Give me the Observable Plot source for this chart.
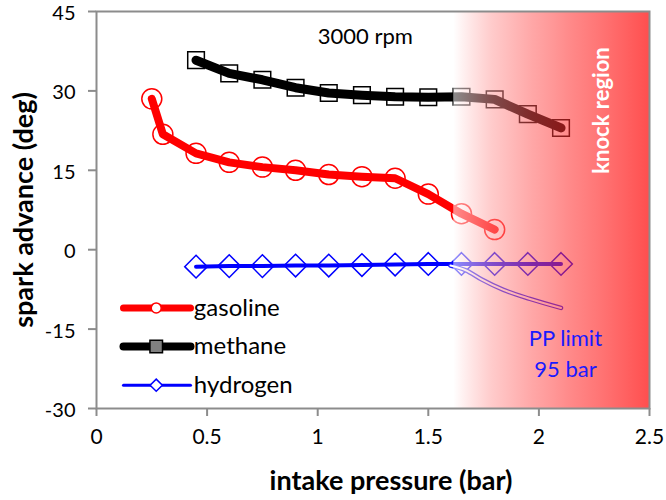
<!DOCTYPE html>
<html>
<head>
<meta charset="utf-8">
<script src="https://cdn.jsdelivr.net/npm/d3@7"></script>
<script src="https://cdn.jsdelivr.net/npm/@observablehq/plot@0.6"></script>
<style>
  body { margin: 0; background: #fff; }
</style>
</head>
<body>
<div id="chart"></div>
<script>
// Spark advance vs intake pressure at 3000 rpm
const pressureGasoline = [0.25, 0.3, 0.45, 0.6, 0.75, 0.9, 1.05, 1.2, 1.35, 1.5, 1.65, 1.8];
const advanceGasoline  = [28.5, 21.8, 18.2, 16.5, 15.6, 15.0, 14.2, 13.8, 13.5, 10.5, 6.8, 3.8];

const pressureMethane = [0.45, 0.6, 0.75, 0.9, 1.05, 1.2, 1.35, 1.5, 1.65, 1.8, 1.95, 2.1];
const advanceMethane  = [35.8, 33.3, 32.1, 30.6, 29.6, 29.2, 28.9, 28.8, 28.9, 28.4, 25.6, 23.0];

const pressureHydrogen = [0.45, 0.6, 0.75, 0.9, 1.05, 1.2, 1.35, 1.5, 1.65, 1.8, 1.95, 2.1];
const advanceHydrogen  = [-3.2, -3.1, -3.1, -3.0, -3.0, -2.9, -2.8, -2.7, -2.7, -2.7, -2.7, -2.7];

// peak-pressure (95 bar) limited hydrogen advance
const ppLimitPressure = [1.6, 1.67, 1.74, 1.84, 1.96, 2.1];
const ppLimitAdvance  = [-3.0, -3.9, -5.6, -7.6, -9.3, -11.0];

const knockFrom = 1.615;   // start of the knock-limited pressure range
const knockTo = 2.5;

const xTicks = [0, 0.5, 1, 1.5, 2, 2.5];
const yTicks = [-30, -15, 0, 15, 30, 45];
const seriesNames = ["gasoline", "methane", "hydrogen"];

const rows = (xs, ys) => xs.map((x, i) => ({x, y: ys[i]}));
const gasoline = rows(pressureGasoline, advanceGasoline);
const methane = rows(pressureMethane, advanceMethane);
const hydrogen = rows(pressureHydrogen, advanceHydrogen);
const ppLimit = rows(ppLimitPressure, ppLimitAdvance);

const styles = {
  gasoline: {color: "#ff0000", width: 8, symbol: "circle", r: 10, legendR: 5, legendFill: "white"},
  methane:  {color: "#000000", width: 9, symbol: "square2", r: 10.6, legendR: 8, legendFill: "#808080"},
  hydrogen: {color: "#0000ff", width: 4, symbol: "diamond2", r: 10.2, legendR: 5.5, legendFill: "white"}
};
const seriesData = {gasoline, methane, hydrogen};

// legend rows, placed in the lower-left corner of the plot
const legendRows = seriesNames.map((name, i) => ({name, y: -11 - 7.3 * i}));

const gradientDefs = () => {
  const defs = d3.create("svg:defs");
  const g = defs.append("linearGradient").attr("id", "knock-fade")
    .attr("x1", "0").attr("x2", "1").attr("y1", "0").attr("y2", "0");
  [
    [0, "255,255,255", 0.55],
    [0.2, "255,150,150", 0.5],
    [0.4, "255,80,80", 0.5],
    [0.6, "255,40,40", 0.55],
    [0.8, "255,20,20", 0.62],
    [1, "255,10,10", 0.72]
  ].forEach(([o, c, a]) => g.append("stop").attr("offset", o)
    .attr("stop-color", `rgb(${c})`).attr("stop-opacity", a));
  return defs.node();
};

const seriesMarks = seriesNames.flatMap(name => {
  const s = styles[name];
  const data = seriesData[name];
  return [
    Plot.line(data, {x: "x", y: "y", stroke: s.color, strokeWidth: s.width,
      strokeLinecap: "round", strokeLinejoin: "round"}),
    Plot.dot(data, {x: "x", y: "y", symbol: s.symbol, r: s.r, stroke: s.color,
      strokeWidth: 1.5, fill: "none"})
  ];
});

const legendMarks = legendRows.flatMap(({name, y}) => {
  const s = styles[name];
  return [
    Plot.line([{x: 0.122, y}, {x: 0.425, y}], {x: "x", y: "y", stroke: s.color,
      strokeWidth: s.width - 1, strokeLinecap: "round"}),
    Plot.dot([{x: 0.27, y}], {x: "x", y: "y", symbol: s.symbol, r: s.legendR,
      stroke: s.color, strokeWidth: 1.5, fill: s.legendFill}),
    Plot.text([name], {x: () => 0.44, y: () => y, text: d => d, textAnchor: "start",
      fontSize: 24, fill: "#000"})
  ];
});

const chart = Plot.plot({
  width: 666,
  height: 500,
  marginLeft: 96,
  marginRight: 17,
  marginTop: 11,
  marginBottom: 92,
  style: {fontFamily: "Lato, 'Open Sans', sans-serif", fontSize: "21px", background: "#fff"},
  x: {domain: [0, 2.5]},
  y: {domain: [-30, 45]},
  marks: [
    gradientDefs,
    ...seriesMarks,
    // hollow peak-pressure limit curve
    Plot.line(ppLimit, {x: "x", y: "y", stroke: "#1a1aff", strokeWidth: 4.5,
      strokeLinecap: "round", curve: "monotone-x"}),
    Plot.line(ppLimit, {x: "x", y: "y", stroke: "#ffffff", strokeWidth: 2,
      strokeLinecap: "round", curve: "monotone-x"}),
    // knock region shading
    Plot.rect([0], {x1: () => knockFrom, x2: () => knockTo, y1: () => -30, y2: () => 45,
      fill: "url(#knock-fade)"}),
    Plot.frame({stroke: "#8c8c8c", strokeWidth: 2}),
    Plot.axisX(xTicks, {tickSize: 8, tickPadding: 13, stroke: "#8c8c8c", strokeWidth: 2,
      color: "#000", tickFormat: d => String(d), label: null, fontSize: 21}),
    // y ticks, with their labels set a touch lower so the top one stays on the page
    Plot.axisY(yTicks, {tickSize: 8, stroke: "#8c8c8c", strokeWidth: 2,
      tickFormat: () => "", label: null}),
    Plot.text(yTicks, {frameAnchor: "left", y: d => d, text: d => String(d), dx: -21, dy: 2,
      textAnchor: "end", fontSize: 20, fill: "#000"}),
    Plot.text(["3000 rpm"], {x: () => 1.215, y: () => 40.2, text: d => d, fontSize: 22, fill: "#000"}),
    Plot.text(["knock region"], {x: () => 2.286, y: () => 26.3, text: d => d, rotate: -90,
      fill: "#fff", fontWeight: "bold", fontSize: 22}),
    Plot.text(["PP limit\n95 bar"], {x: () => 2.12, y: () => -19.2, text: d => d,
      fill: "#1a1aff", fontSize: 22, lineHeight: 1.4}),
    Plot.text(["spark advance (deg)"], {frameAnchor: "left", dx: -72, rotate: -90, text: d => d,
      textAnchor: "middle", fontWeight: "bold", fontSize: 27, fill: "#000"}),
    Plot.text(["intake pressure (bar)"], {frameAnchor: "bottom", dy: 73, dx: 18, text: d => d,
      lineAnchor: "middle", fontWeight: "bold", fontSize: 27, fill: "#000"}),
    ...legendMarks
  ]
});

document.getElementById("chart").append(chart);
</script>
</body>
</html>
